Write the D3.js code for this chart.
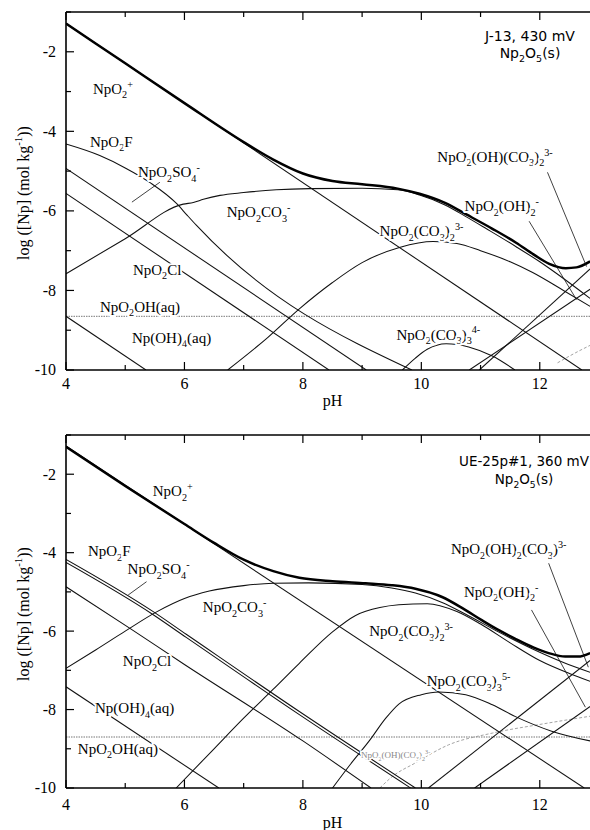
<!DOCTYPE html>
<html><head><meta charset="utf-8">
<script src="https://cdn.jsdelivr.net/npm/d3@7"></script>
<style>body{margin:0;background:#fff}svg{display:block}</style>
</head><body>
<svg id="c" width="590" height="830"></svg>
<script>
// ---------- DATA (pH, log concentration) ----------
const phTicks = [4, 6, 8, 10, 12];
const phMinor = [5, 7, 9, 11, 13];
const logTicks = [-2, -4, -6, -8, -10];
const logMinor = [-1, -3, -5, -7, -9];

// Top panel: J-13, 430 mV
const top_total = [[4,-1.29],[5,-2.29],[6,-3.29],[7,-4.27],[7.5,-4.71],[8,-5.06],[8.5,-5.25],[9,-5.33],[9.6,-5.44],[9.97,-5.57],[10.4,-5.8],[10.76,-6.09],[11.2,-6.45],[11.6,-6.8],[11.9,-7.1],[12.16,-7.33],[12.44,-7.44],[12.62,-7.42],[12.85,-7.27]];
const top_NpO2 = [[4,-1.29],[12.71,-10]];
const top_F = [[4,-4.32],[4.57,-4.61],[5.0,-4.92],[5.42,-5.29],[5.87,-5.82],[6.04,-6.1],[6.2,-6.36],[9.84,-10]];
const top_SO4 = [[4,-4.93],[9.07,-10]];
const top_Cl = [[4,-5.56],[8.44,-10]];
const top_NpOH4 = [[4,-8.65],[5.35,-10]];
const top_NpO2OH = [[4,-8.65],[13,-8.65]];
const top_CO3 = [[4,-7.58],[5,-6.7],[5.98,-5.83],[6.15,-5.79],[6.32,-5.71],[6.6,-5.61],[7,-5.54],[7.55,-5.47],[8.11,-5.44],[9,-5.43],[9.6,-5.47],[9.97,-5.6],[10.4,-5.85],[10.76,-6.15],[11.1,-6.45],[11.6,-6.9],[12,-7.28],[12.4,-7.7],[12.85,-8.2]];
const top_CO3_2 = [[6.73,-10],[7.41,-9.18],[7.95,-8.45],[8.5,-7.8],[9,-7.3],[9.63,-6.92],[10.2,-6.77],[10.6,-6.82],[11,-7.0],[11.5,-7.28],[11.88,-7.55],[12.4,-8.0],[12.85,-8.4]];
const top_CO3_3 = [[9.68,-10],[9.9,-9.7],[10.1,-9.48],[10.42,-9.34],[10.8,-9.42],[11.2,-9.65],[11.58,-10]];
const top_OH2 = [[10.81,-10],[12.85,-7.97]];
const top_OHCO3 = [[10.98,-10],[12.85,-7.46]];
const top_minor = [[12.3,-9.82],[12.6,-9.57],[12.85,-9.38]];

// Bottom panel: UE-25p#1, 360 mV
const bot_total = [[4,-1.3],[5,-2.3],[6,-3.27],[6.5,-3.75],[7,-4.18],[7.5,-4.47],[7.94,-4.64],[8.5,-4.73],[9.06,-4.78],[9.5,-4.83],[9.9,-4.92],[10.35,-5.13],[10.7,-5.42],[11.02,-5.72],[11.3,-5.97],[11.58,-6.19],[11.9,-6.42],[12.15,-6.56],[12.43,-6.65],[12.65,-6.65],[12.85,-6.56]];
const bot_NpO2 = [[4,-1.28],[12.75,-10]];
const bot_F = [[4,-4.17],[5.46,-5.49],[6.03,-6.08],[7.94,-8.05],[9.9,-10]];
const bot_SO4 = [[4,-4.25],[5.46,-5.57],[6.03,-6.16],[7.94,-8.13],[9.82,-10]];
const bot_Cl = [[4,-4.87],[5.08,-5.93],[6,-6.85],[8,-8.8],[9.15,-10]];
const bot_NpOH4 = [[4,-7.42],[6.58,-10]];
const bot_NpO2OH = [[4,-8.7],[13,-8.7]];
const bot_CO3 = [[4,-6.95],[4.5,-6.48],[5,-6.0],[5.53,-5.51],[6,-5.17],[6.42,-4.98],[7,-4.84],[7.5,-4.78],[8.1,-4.77],[9,-4.81],[9.5,-4.9],[9.9,-5.03],[10.35,-5.27],[10.75,-5.57],[11.3,-6.02],[11.87,-6.45],[12.4,-6.8],[12.85,-7.05]];
const bot_CO3_2 = [[5.86,-10],[6.5,-9.0],[7,-8.22],[7.5,-7.48],[7.94,-6.82],[8.5,-6.02],[8.89,-5.6],[9.3,-5.4],[9.62,-5.33],[10.1,-5.3],[10.6,-5.5],[11,-5.82],[11.5,-6.3],[12,-6.75],[12.5,-7.08],[12.85,-7.28]];
const bot_CO3_3 = [[8.5,-10],[8.8,-9.4],[9.12,-8.8],[9.4,-8.22],[9.62,-7.86],[10,-7.62],[10.3,-7.55],[10.75,-7.62],[11.2,-7.88],[11.59,-8.18],[12.2,-8.55],[12.85,-8.8]];
const bot_OH2 = [[10.9,-10],[12.85,-7.92]];
const bot_OH2CO3 = [[10.12,-10],[12.85,-6.75]];
const bot_minor = [[9.3,-10],[9.5,-9.72],[9.9,-9.36],[10.46,-8.9],[11.2,-8.6],[12,-8.38],[12.85,-8.17]];

// ---------- LAYOUT ----------
const SERIF = "'Liberation Serif','Times New Roman',serif";
const SANS = "'DejaVu Sans',sans-serif";
const svg = d3.select('#c');
const x = d3.scaleLinear().domain([4, 13]).range([66, 599]);

const thin = {w:1.05, c:'#111'};
const panels = [
  {
    yr:[370,12], tickBase:389, labBase:406, ylabY:193,
    note:['J-13, 430 mV','Np_{2}O_{5}(s)'], noteX:530, noteY:[41,58],
    series:[
      {d:top_NpO2OH, w:1, c:'#777', dash:'1.5,1'},
      {d:top_minor, w:0.9, c:'#999', dash:'3,2'},
      {d:top_NpO2, ...thin},{d:top_F, ...thin},{d:top_SO4, ...thin},{d:top_Cl, ...thin},
      {d:top_NpOH4, ...thin},{d:top_CO3, ...thin},{d:top_CO3_2, ...thin},{d:top_CO3_3, ...thin},
      {d:top_OH2, ...thin},{d:top_OHCO3, ...thin},
      {d:top_total, w:2.5, c:'#000'}
    ],
    labels:[
      ['NpO_{2}^{+}',4.455,-3.06],['NpO_{2}F',4.405,-4.39],['NpO_{2}SO_{4}^{-}',5.214,-5.15],
      ['NpO_{2}CO_{3}^{-}',6.715,-6.16],['NpO_{2}Cl',5.13,-7.6],['NpO_{2}OH(aq)',4.573,-8.53],
      ['Np(OH)_{4}(aq)',5.113,-9.32],['NpO_{2}(CO_{3})_{2}^{3-}',9.295,-6.64],
      ['NpO_{2}(OH)_{2}^{-}',10.73,-6.01],['NpO_{2}(OH)(CO_{3})_{2}^{3-}',10.27,-4.77],
      ['NpO_{2}(CO_{3})_{3}^{4-}',9.58,-9.24]
    ],
    pointers:[[[5.585,-5.28],[5.113,-5.78]],[[11.82,-6.26],[12.62,-8.23]],[[12.13,-5.03],[12.79,-7.4]]]
  },
  {
    yr:[788,435], tickBase:810, labBase:828, ylabY:614,
    note:['UE-25p#1, 360 mV','Np_{2}O_{5}(s)'], noteX:524, noteY:[466,484],
    series:[
      {d:bot_NpO2OH, w:1, c:'#777', dash:'1.5,1'},
      {d:bot_minor, w:0.9, c:'#999', dash:'3,2'},
      {d:bot_NpO2, ...thin},{d:bot_F, ...thin},{d:bot_SO4, ...thin},{d:bot_Cl, ...thin},
      {d:bot_NpOH4, ...thin},{d:bot_CO3, ...thin},{d:bot_CO3_2, ...thin},{d:bot_CO3_3, ...thin},
      {d:bot_OH2, ...thin},{d:bot_OH2CO3, ...thin},
      {d:bot_total, w:2.5, c:'#000'}
    ],
    labels:[
      ['NpO_{2}^{+}',5.465,-2.56],['NpO_{2}F',4.37,-4.09],['NpO_{2}SO_{4}^{-}',5.04,-4.55],
      ['NpO_{2}CO_{3}^{-}',6.31,-5.52],['NpO_{2}Cl',4.96,-6.89],['Np(OH)_{4}(aq)',4.49,-8.09],
      ['NpO_{2}OH(aq)',4.2,-9.13],['NpO_{2}(CO_{3})_{2}^{3-}',9.12,-6.13],
      ['NpO_{2}(CO_{3})_{3}^{5-}',10.09,-7.4],['NpO_{2}(OH)_{2}^{-}',10.72,-5.13],
      ['NpO_{2}(OH)_{2}(CO_{3})^{3-}',10.5,-4.04],
      ['NpO_{2}(OH)(CO_{3})_{2}^{3-}',8.98,-9.24,'small']
    ],
    pointers:[[[5.36,-4.74],[5.05,-5.08]],[[11.86,-5.46],[12.77,-7.94]],[[12.15,-4.27],[12.82,-6.92]]]
  }
];

function rich(sel, str, fs){
  const parts = str.split(/(_\{[^}]*\}|\^\{[^}]*\})/g).filter(s => s.length);
  let cur = 0;
  parts.forEach(p => {
    let t = p, off = 0, size = fs;
    if (p.startsWith('_{')) { t = p.slice(2,-1); off = 0.3*fs; size = fs*0.68; }
    else if (p.startsWith('^{')) { t = p.slice(2,-1); off = -0.42*fs; size = fs*0.68; }
    sel.append('tspan').attr('dy', off - cur).attr('font-size', size).text(t);
    cur = off;
  });
}

panels.forEach((P, i) => {
  const y = d3.scaleLinear().domain([-10, -1]).range(P.yr);
  const g = svg.append('g');
  const [yb, yt] = P.yr;
  const cid = 'clip' + i;
  svg.append('clipPath').attr('id', cid).append('rect')
    .attr('x', x(4)).attr('y', yt).attr('width', x(13) - x(4)).attr('height', yb - yt);

  const line = d3.line().x(d => x(d[0])).y(d => y(d[1])).curve(d3.curveMonotoneX);
  const sg = g.append('g').attr('clip-path', `url(#${cid})`);
  P.series.forEach(s => {
    sg.append('path').attr('d', line(s.d)).attr('fill', 'none')
      .attr('stroke', s.c).attr('stroke-width', s.w)
      .attr('stroke-dasharray', s.dash || null).attr('stroke-linejoin', 'round');
  });

  // pointers
  P.pointers.forEach(p => {
    g.append('line').attr('x1', x(p[0][0])).attr('y1', y(p[0][1]))
      .attr('x2', x(p[1][0])).attr('y2', y(p[1][1]))
      .attr('stroke', '#111').attr('stroke-width', 0.8);
  });

  // labels
  P.labels.forEach(L => {
    const small = L[3] === 'small';
    const fs = small ? 9 : 15;
    const t = g.append('text').attr('x', x(L[1])).attr('y', y(L[2]))
      .attr('font-family', SERIF).attr('font-size', fs)
      .attr('fill', small ? '#888' : '#000')
      .attr('stroke', '#fff').attr('stroke-width', small ? 3 : 4)
      .attr('paint-order', 'stroke').attr('stroke-linejoin', 'round');
    rich(t, L[0], fs);
  });

  // axes (box lines)
  const ax = g.append('g').attr('stroke', '#000').attr('stroke-width', 1.6).attr('fill', 'none');
  ax.append('line').attr('x1', x(4)).attr('x2', x(13)).attr('y1', yb).attr('y2', yb);
  ax.append('line').attr('x1', x(4)).attr('x2', x(13)).attr('y1', yt).attr('y2', yt);
  ax.append('line').attr('x1', x(4)).attr('x2', x(4)).attr('y1', yt).attr('y2', yb);
  const tk = g.append('g').attr('stroke', '#000').attr('stroke-width', 1.2);
  phTicks.concat(phMinor).forEach(v => {
    const L = phTicks.includes(v) ? 8 : 5;
    tk.append('line').attr('x1', x(v)).attr('x2', x(v)).attr('y1', yb).attr('y2', yb - L);
    tk.append('line').attr('x1', x(v)).attr('x2', x(v)).attr('y1', yt).attr('y2', yt + L);
  });
  logTicks.concat(logMinor).forEach(v => {
    const L = logTicks.includes(v) ? 8 : 5;
    tk.append('line').attr('x1', x(4)).attr('x2', x(4) + L).attr('y1', y(v)).attr('y2', y(v));
  });
  // tick labels
  phTicks.forEach(v => {
    g.append('text').attr('x', x(v)).attr('y', P.tickBase).attr('text-anchor', 'middle')
      .attr('font-family', SERIF).attr('font-size', 16).text(v);
  });
  logTicks.forEach(v => {
    g.append('text').attr('x', 56).attr('y', y(v)).attr('dy', '0.34em').attr('text-anchor', 'end')
      .attr('font-family', SERIF).attr('font-size', 16).text(String(v).replace('\u2212','-'));
  });
  // axis titles
  g.append('text').attr('x', (x(4) + x(13)) / 2).attr('y', P.labBase).attr('text-anchor', 'middle')
    .attr('font-family', SERIF).attr('font-size', 16).text('pH');
  const yl = g.append('text').attr('transform', `translate(29,${P.ylabY}) rotate(-90)`)
    .attr('text-anchor', 'middle').attr('font-family', SERIF).attr('font-size', 16);
  rich(yl, 'log ([Np] (mol kg^{-1}))', 16);

  // annotation
  P.note.forEach((n, k) => {
    const fsN = i === 1 ? 13.5 : 14;
    const t = g.append('text').attr('x', P.noteX).attr('y', P.noteY[k]).attr('text-anchor', 'middle')
      .attr('font-family', SANS).attr('font-size', fsN);
    rich(t, n, fsN);
  });
});
</script>
</body></html>
